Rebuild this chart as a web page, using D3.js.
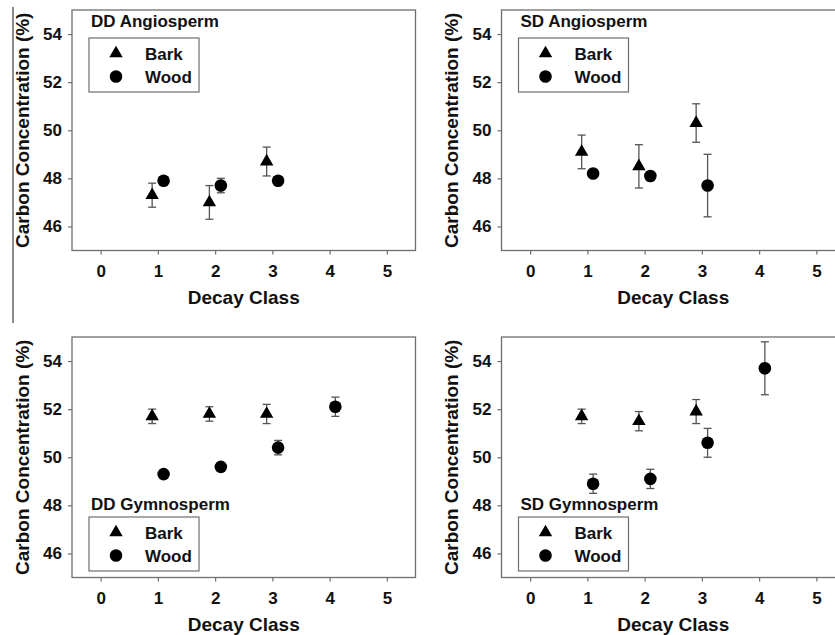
<!DOCTYPE html>
<html>
<head>
<meta charset="utf-8">
<script src="https://cdn.jsdelivr.net/npm/d3@7"></script>
<style>
  body { margin: 0; background: #fff; }
  text { font-family: "Liberation Sans", Arial, sans-serif; font-weight: bold; fill: #111; }
</style>
</head>
<body>
<div id="chart"></div>
<script>
// ---- data ----
const xTicks = [0, 1, 2, 3, 4, 5];
const yTicks = [46, 48, 50, 52, 54];

const ddAngioBarkX = [1, 2, 3];
const ddAngioBark = [47.3, 47.0, 48.7];
const ddAngioBarkErr = [0.5, 0.7, 0.6];
const ddAngioWoodX = [1, 2, 3];
const ddAngioWood = [47.9, 47.7, 47.9];
const ddAngioWoodErr = [0.1, 0.3, 0.1];

const sdAngioBarkX = [1, 2, 3];
const sdAngioBark = [49.1, 48.5, 50.3];
const sdAngioBarkErr = [0.7, 0.9, 0.8];
const sdAngioWoodX = [1, 2, 3];
const sdAngioWood = [48.2, 48.1, 47.7];
const sdAngioWoodErr = [0.1, 0.1, 1.3];

const ddGymnoBarkX = [1, 2, 3];
const ddGymnoBark = [51.7, 51.8, 51.8];
const ddGymnoBarkErr = [0.3, 0.3, 0.4];
const ddGymnoWoodX = [1, 2, 3, 4];
const ddGymnoWood = [49.3, 49.6, 50.4, 52.1];
const ddGymnoWoodErr = [0.1, 0.1, 0.3, 0.4];

const sdGymnoBarkX = [1, 2, 3];
const sdGymnoBark = [51.7, 51.5, 51.9];
const sdGymnoBarkErr = [0.3, 0.4, 0.5];
const sdGymnoWoodX = [1, 2, 3, 4];
const sdGymnoWood = [48.9, 49.1, 50.6, 53.7];
const sdGymnoWoodErr = [0.4, 0.4, 0.6, 1.1];

const series = ["Bark", "Wood"];

const width = 835, height = 635;
const svg = d3.select("#chart").append("svg")
    .attr("width", width).attr("height", height);

// stray frame line from the scanned figure
svg.append("line")
    .attr("x1", 13).attr("x2", 13).attr("y1", 7).attr("y2", 323)
    .attr("stroke", "#666").attr("stroke-width", 1.5);

const panels = [
  { title: "DD Angiosperm", left: 72, top: 10, titleY: 11, legendY: 28,
    bark: [ddAngioBarkX, ddAngioBark, ddAngioBarkErr], wood: [ddAngioWoodX, ddAngioWood, ddAngioWoodErr] },
  { title: "SD Angiosperm", left: 501.5, top: 10, titleY: 11, legendY: 28,
    bark: [sdAngioBarkX, sdAngioBark, sdAngioBarkErr], wood: [sdAngioWoodX, sdAngioWood, sdAngioWoodErr] },
  { title: "DD Gymnosperm", left: 72, top: 337, titleY: 167, legendY: 180,
    bark: [ddGymnoBarkX, ddGymnoBark, ddGymnoBarkErr], wood: [ddGymnoWoodX, ddGymnoWood, ddGymnoWoodErr] },
  { title: "SD Gymnosperm", left: 501.5, top: 337, titleY: 167, legendY: 180,
    bark: [sdGymnoBarkX, sdGymnoBark, sdGymnoBarkErr], wood: [sdGymnoWoodX, sdGymnoWood, sdGymnoWoodErr] },
];

const pw = 343.5, ph = 240.5;
const frameColor = "#6e6e6e";
const errColor = "#555";

const triangle = d3.symbol().type(d3.symbolTriangle).size(78);

panels.forEach(p => drawPanel(p));

function drawPanel(p) {
  const g = svg.append("g").attr("transform", `translate(${p.left},${p.top})`);

  const x = d3.scaleLinear().domain([-0.5, 5.5]).range([0, pw]);
  const y = d3.scaleLinear().domain([45, 55]).range([ph, 0]);

  // frame
  g.append("rect")
      .attr("width", pw).attr("height", ph)
      .attr("fill", "none").attr("stroke", frameColor).attr("stroke-width", 1.3);

  // axes
  const xAxis = g.append("g").attr("transform", `translate(0,${ph})`)
      .call(d3.axisBottom(x).tickValues(xTicks).tickSize(4).tickPadding(6).tickFormat(d3.format("d")));
  const yAxis = g.append("g")
      .call(d3.axisLeft(y).tickValues(yTicks).tickSize(4).tickPadding(6).tickFormat(d3.format("d")));
  [xAxis, yAxis].forEach(a => {
    a.attr("font-family", null).attr("font-size", null);
    a.select(".domain").remove();
    a.selectAll(".tick line").attr("stroke", frameColor).attr("stroke-width", 1.2);
    a.selectAll(".tick text")
        .style("font-size", "17px").style("font-weight", "bold")
        .style("font-family", "'Liberation Sans', Arial, sans-serif")
        .attr("fill", "#111");
  });
  xAxis.selectAll(".tick text").attr("dy", "0.95em");

  // axis titles
  g.append("text")
      .attr("x", x(2.5)).attr("y", ph + 53)
      .attr("text-anchor", "middle").style("font-size", "19px")
      .text("Decay Class");
  g.append("text")
      .attr("transform", `translate(${-50},${ph / 2}) rotate(-90)`)
      .attr("text-anchor", "middle").attr("dy", "0.35em").style("font-size", "19px")
      .text("Carbon Concentration (%)");

  // panel title + legend
  g.append("text")
      .attr("x", 19).attr("y", p.titleY).attr("dy", "0.35em")
      .style("font-size", "17px").text(p.title);

  const lg = g.append("g").attr("transform", `translate(17,${p.legendY})`);
  lg.append("rect").attr("width", 110).attr("height", 54)
      .attr("fill", "#fff").attr("stroke", frameColor).attr("stroke-width", 1.2);
  series.forEach((s, i) => {
    const cy = 15.5 + i * 23;
    if (s === "Bark") {
      lg.append("path").attr("d", triangle).attr("transform", `translate(27,${cy})`).attr("fill", "#000");
    } else {
      lg.append("circle").attr("cx", 27).attr("cy", cy).attr("r", 6.3).attr("fill", "#000");
    }
    lg.append("text").attr("x", 56).attr("y", cy).attr("dy", "0.36em")
        .style("font-size", "17px").text(s);
  });

  // points with error bars (bark offset left, wood offset right)
  const groups = [
    { name: "Bark", d: p.bark, off: -0.1 },
    { name: "Wood", d: p.wood, off: 0.1 },
  ];
  groups.forEach(gr => {
    const [xs, vals, errs] = gr.d;
    const pts = xs.map((xv, i) => ({ x: xv + gr.off, v: vals[i], e: errs[i] }));
    const eb = g.append("g").attr("stroke", errColor).attr("stroke-width", 1.3);
    pts.forEach(pt => {
      const cx = x(pt.x);
      eb.append("line").attr("x1", cx).attr("x2", cx).attr("y1", y(pt.v - pt.e)).attr("y2", y(pt.v + pt.e));
      [pt.v - pt.e, pt.v + pt.e].forEach(ev => {
        eb.append("line").attr("x1", cx - 4).attr("x2", cx + 4).attr("y1", y(ev)).attr("y2", y(ev));
      });
    });
    if (gr.name === "Bark") {
      g.append("g").selectAll("path").data(pts).join("path")
          .attr("d", triangle)
          .attr("transform", d => `translate(${x(d.x)},${y(d.v)})`)
          .attr("fill", "#000");
    } else {
      g.append("g").selectAll("circle").data(pts).join("circle")
          .attr("cx", d => x(d.x)).attr("cy", d => y(d.v)).attr("r", 6.3)
          .attr("fill", "#000");
    }
  });
}
</script>
</body>
</html>
